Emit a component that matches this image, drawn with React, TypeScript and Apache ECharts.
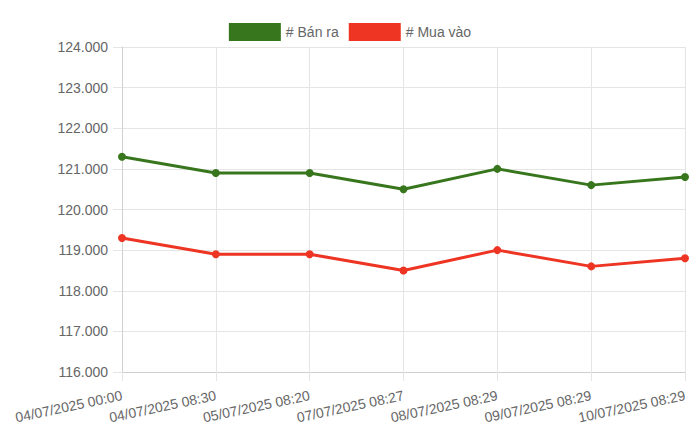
import { useEffect, useRef } from 'react'
import * as echarts from 'echarts'

const timeLabels = [
  '04/07/2025 00:00',
  '04/07/2025 08:30',
  '05/07/2025 08:20',
  '07/07/2025 08:27',
  '08/07/2025 08:29',
  '09/07/2025 08:29',
  '10/07/2025 08:29',
]

const sellPrices = [121300, 120900, 120900, 120500, 121000, 120600, 120800]
const buyPrices = [119300, 118900, 118900, 118500, 119000, 118600, 118800]

const SELL_COLOR = '#38761d'
const BUY_COLOR = '#ee3524'
const FONT = '"Liberation Sans", Helvetica, Arial, sans-serif'

const fmtThousands = (v: number) => {
  const s = String(Math.round(v))
  return s.replace(/\B(?=(\d{3})+(?!\d))/g, '.')
}

export default function App() {
  const ref = useRef<HTMLDivElement>(null)

  useEffect(() => {
    document.body.style.margin = '0'
    const el = ref.current
    if (!el) return
    const chart = echarts.init(el, undefined, { renderer: 'svg' })

    chart.setOption({
      animation: false,
      backgroundColor: '#ffffff',
      textStyle: { fontFamily: FONT },
      legend: {
        top: 18,
        left: 'center',
        itemWidth: 52,
        itemHeight: 18,
        itemGap: 10,
        icon: 'rect',
        textStyle: { color: '#666666', fontSize: 14, fontFamily: FONT },
        data: ['# Bán ra', '# Mua vào'],
      },
      grid: { left: 122, right: 15, top: 47, bottom: 71, containLabel: false },
      xAxis: {
        type: 'category',
        boundaryGap: false,
        data: timeLabels,
        axisLine: { lineStyle: { color: '#cfcfcf', width: 1 } },
        axisTick: { show: true, length: 9, lineStyle: { color: '#e5e5e5' } },
        splitLine: { show: true, lineStyle: { color: '#e5e5e5' } },
        axisLabel: {
          rotate: 12,
          color: '#666666',
          fontSize: 14,
          fontFamily: FONT,
          margin: 23,
          interval: 0,
        },
      },
      yAxis: {
        type: 'value',
        min: 116000,
        max: 124000,
        interval: 1000,
        axisLine: { show: true, lineStyle: { color: '#cfcfcf', width: 1 } },
        axisTick: { show: true, length: 9, lineStyle: { color: '#e5e5e5' } },
        splitLine: { show: true, lineStyle: { color: '#e5e5e5' } },
        axisLabel: {
          color: '#666666',
          fontSize: 14,
          fontFamily: FONT,
          margin: 14,
          formatter: (v: number) => fmtThousands(v),
        },
      },
      series: [
        {
          name: '# Bán ra',
          type: 'line',
          data: sellPrices,
          color: SELL_COLOR,
          symbol: 'circle',
          symbolSize: 8,
          lineStyle: { width: 3, color: SELL_COLOR },
          itemStyle: { color: SELL_COLOR },
        },
        {
          name: '# Mua vào',
          type: 'line',
          data: buyPrices,
          color: BUY_COLOR,
          symbol: 'circle',
          symbolSize: 8,
          lineStyle: { width: 3, color: BUY_COLOR },
          itemStyle: { color: BUY_COLOR },
        },
      ],
    })

    return () => chart.dispose()
  }, [])

  return <div ref={ref} style={{ width: 700, height: 443 }} />
}
